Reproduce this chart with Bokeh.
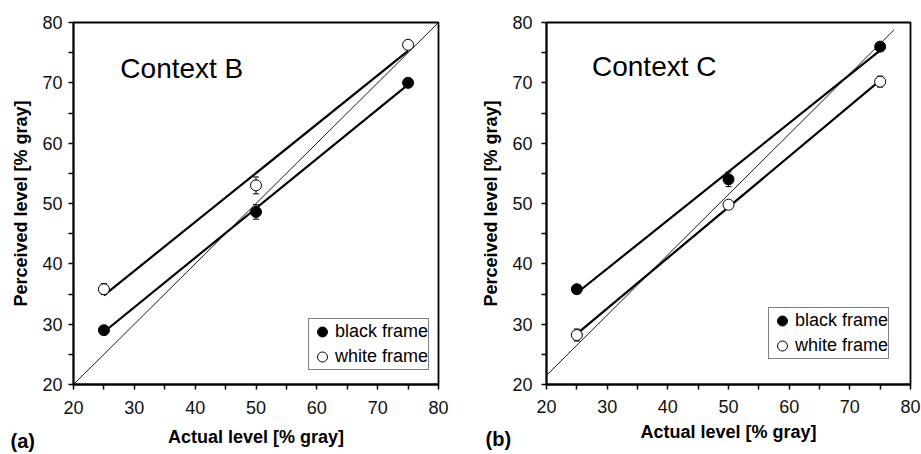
import numpy as np
from bokeh.plotting import figure
from bokeh.layouts import row
from bokeh.models import (ColumnDataSource, Whisker, TeeHead, Legend, LegendItem,
                          Label, FixedTicker, Range1d)
from bokeh.embed import file_html
from bokeh.resources import INLINE

# ---------------- data ----------------
actual = [25, 50, 75]
ticks = [20, 30, 40, 50, 60, 70, 80]
minor_ticks = [25, 35, 45, 55, 65, 75]

b_black = [29.0, 48.6, 70.0]
b_black_err = [0.6, 1.2, 0.7]
b_white = [35.8, 53.0, 76.3]
b_white_err = [0.9, 1.4, 0.6]

c_black = [35.8, 54.0, 76.0]
c_black_err = [0.6, 1.2, 0.5]
c_white = [28.2, 49.8, 70.2]
c_white_err = [1.0, 0.6, 0.9]

diag_b_x = [20, 80]
diag_b_y = [20, 80]
diag_c_x = [20, 77.3]
diag_c_y = [21.5, 78.8]

FONT = "Liberation Sans"


def panel(width, height, mb_left, mb_right, mb_top, mb_bottom, title, title_pos,
          tag, tag_pos, black, black_err, white, white_err, dx, dy, leg_loc,
          x_std, xlab_std, y_std, ylab_std):
    p = figure(width=width, height=height, x_range=Range1d(20, 80), y_range=Range1d(20, 80),
               output_backend="svg", toolbar_location=None,
               min_border_left=mb_left, min_border_right=mb_right,
               min_border_top=mb_top, min_border_bottom=mb_bottom)
    p.xgrid.visible = False
    p.ygrid.visible = False
    p.outline_line_color = "black"
    p.outline_line_width = 1.8
    p.outline_line_alpha = 1.0
    p.background_fill_color = "white"
    p.border_fill_color = "white"

    for ax in (p.xaxis[0], p.yaxis[0]):
        ax.ticker = FixedTicker(ticks=ticks, minor_ticks=minor_ticks)
        ax.axis_line_width = 1.8
        ax.axis_line_color = "black"
        ax.major_tick_in = 0
        ax.major_tick_out = 5
        ax.minor_tick_in = 0
        ax.minor_tick_out = 5
        ax.major_tick_line_width = 1.5
        ax.minor_tick_line_width = 1.5
        ax.major_tick_line_color = "black"
        ax.minor_tick_line_color = "black"
        ax.major_label_text_font = FONT
        ax.major_label_text_font_size = "18px"
        ax.major_label_text_color = "#111111"
        ax.axis_label_text_font = FONT
        ax.axis_label_text_font_size = "18px"
        ax.axis_label_text_font_style = "bold"
        ax.axis_label_text_color = "black"
    p.xaxis.axis_label = "Actual level [% gray]"
    p.yaxis.axis_label = "Perceived level [% gray]"
    p.xaxis.major_label_standoff = x_std
    p.xaxis.axis_label_standoff = xlab_std
    p.yaxis.major_label_standoff = y_std
    p.yaxis.axis_label_standoff = ylab_std
    p.yaxis.major_label_orientation = "horizontal"

    # identity / reference diagonal
    p.line(dx, dy, line_color="black", line_width=0.9)

    # regression lines (least squares through the three points)
    xs = np.array([actual[0], actual[-1]], dtype=float)
    for vals in (black, white):
        m, c = np.polyfit(actual, vals, 1)
        p.line(xs, m * xs + c, line_color="black", line_width=2.2)

    # error bars
    for vals, err in ((black, black_err), (white, white_err)):
        v = np.array(vals)
        e = np.array(err)
        src = ColumnDataSource(dict(x=actual, lo=v - e, hi=v + e))
        w = Whisker(base="x", lower="lo", upper="hi", source=src, dimension="height",
                    line_color="black", line_width=1, level="underlay",
                    upper_head=TeeHead(size=6, line_width=1, line_color="black"),
                    lower_head=TeeHead(size=6, line_width=1, line_color="black"))
        p.add_layout(w)

    rb = p.scatter(actual, black, size=11, marker="circle", fill_color="black",
                   line_color="black", line_width=1)
    rw = p.scatter(actual, white, size=11, marker="circle", fill_color="white",
                   line_color="black", line_width=1)

    leg = Legend(items=[LegendItem(label="black frame", renderers=[rb]),
                        LegendItem(label="white frame", renderers=[rw])],
                 location=leg_loc, orientation="vertical",
                 glyph_width=26, glyph_height=25, padding=0, spacing=0,
                 label_standoff=0, label_width=90, label_height=20, margin=0,
                 label_text_font=FONT, label_text_font_size="18px",
                 label_text_color="black",
                 border_line_color="black", border_line_width=1,
                 background_fill_color="white", background_fill_alpha=1.0)
    p.add_layout(leg)

    p.add_layout(Label(x=title_pos[0], y=title_pos[1], text=title, text_font=FONT,
                       text_font_size="28px", text_baseline="middle", text_color="black"))
    # panel tag, hosted in the top side panel so it is not clipped to the frame
    p.add_layout(Label(x=tag_pos[0], y=tag_pos[1], x_units="screen", y_units="screen",
                       text=tag, text_font=FONT, text_font_size="20px",
                       text_font_style="bold", text_baseline="middle", text_color="black"),
                 "above")
    return p


p1 = panel(460, 452, 73, 22, 21, 68, "Context B", (27.7, 72.4), "(a)", (-63, -418),
           b_black, b_black_err, b_white, b_white_err, diag_b_x, diag_b_y, (235, 14),
           11, 10, 6, 8)
p2 = panel(461, 452, 86, 11, 22, 63, "Context C", (27.5, 72.7), "(b)", (-61, -416),
           c_black, c_black_err, c_white, c_white_err, diag_c_x, diag_c_y, (222, 25),
           10, 6, 9, 8)

layout = row(p1, p2)
open("out.html", "w").write(file_html(layout, INLINE))
